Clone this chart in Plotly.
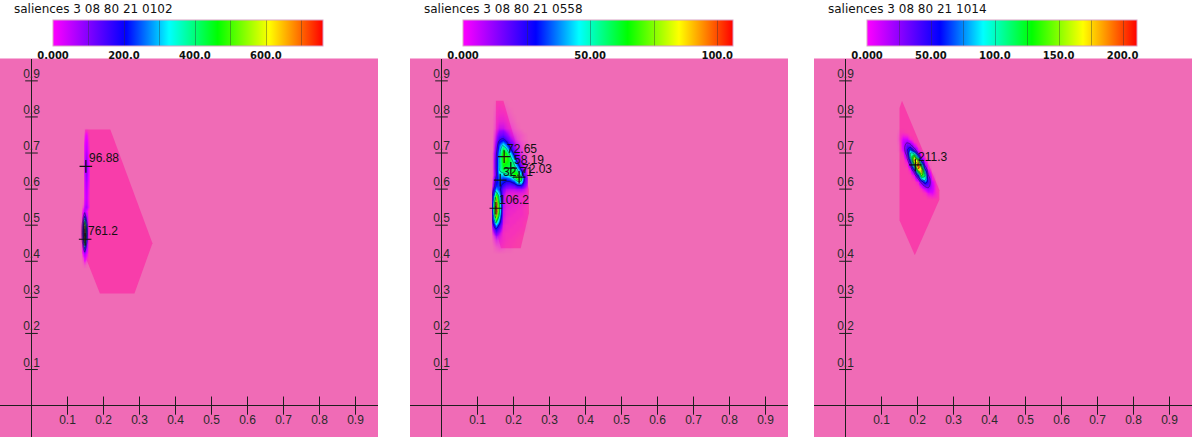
import plotly.graph_objects as go
from plotly.subplots import make_subplots

# ---- panel headers and colour bars ----
titles = ["saliences 3 08 80 21 0102", "saliences 3 08 80 21 0558", "saliences 3 08 80 21 1014"]
zmax = [761.2, 106.2, 211.3]
level_step = [100, 25, 25]
cbar_vals = [[0, 200, 400, 600], [0, 50, 100], [0, 50, 100, 150, 200]]
cbar_text = [["0.000", "200.0", "400.0", "600.0"],
             ["0.000", "50.00", "100.0"],
             ["0.000", "50.00", "100.0", "150.0", "200.0"]]

axis_ticks = [0.1, 0.2, 0.3, 0.4, 0.5, 0.6, 0.7, 0.8, 0.9]

# ---- outline of the sampled region in each panel ----
hull1_x = [0.149, 0.219, 0.336, 0.286, 0.190, 0.149]
hull1_y = [0.765, 0.765, 0.450, 0.311, 0.311, 0.414]
hull2_x = [0.151, 0.172, 0.243, 0.243, 0.220, 0.165, 0.151]
hull2_y = [0.845, 0.845, 0.600, 0.533, 0.436, 0.436, 0.490]
hull3_x = [0.150, 0.157, 0.261, 0.261, 0.1925, 0.150]
hull3_y = [0.825, 0.845, 0.597, 0.571, 0.417, 0.514]

# ---- labelled maxima ----
peaks1_x = [0.151, 0.149]
peaks1_y = [0.663, 0.461]
peaks1_txt = ["96.88", "761.2"]
peaks2_x = [0.174, 0.1925, 0.2156, 0.163, 0.151]
peaks2_y = [0.690, 0.658, 0.633, 0.625, 0.547]
peaks2_txt = ["72.65", "58.19", "72.03", "32.71", "106.2"]
peaks3_x = [0.194]
peaks3_y = [0.667]
peaks3_txt = ["211.3"]

# ---- salience fields ----
grid1_x = [0.1325, 0.1375, 0.1425, 0.1475, 0.1525, 0.1575, 0.1625]
grid1_y = [0.38, 0.39, 0.40, 0.41, 0.42, 0.43, 0.44, 0.45, 0.46, 0.47,
           0.48, 0.49, 0.50, 0.51, 0.52, 0.53, 0.54, 0.55, 0.56, 0.57,
           0.58, 0.59, 0.60, 0.61, 0.62, 0.63, 0.64, 0.65, 0.66, 0.67,
           0.68, 0.69, 0.70, 0.71, 0.72, 0.73, 0.74, 0.75, 0.76, 0.77]
grid1_z = [
    [0, 0, 0, 0, 0, 0, 0],
    [0, 0, 1, 3, 1, 0, 0],
    [0, 0, 3, 9, 3, 0, 0],
    [0, 0, 7, 25, 7, 0, 0],
    [0, 0, 19, 63, 19, 0, 0],
    [0, 1, 40, 134, 40, 1, 0],
    [0, 2, 74, 250, 74, 2, 0],
    [0, 3, 120, 407, 120, 3, 0],
    [0, 4, 170, 576, 170, 4, 0],
    [0, 5, 209, 710, 209, 5, 0],
    [0, 6, 224, 761, 224, 6, 0],
    [0, 5, 209, 710, 209, 5, 0],
    [0, 4, 170, 576, 170, 4, 0],
    [0, 3, 120, 407, 120, 3, 0],
    [0, 2, 74, 250, 74, 2, 0],
    [0, 1, 40, 134, 40, 1, 0],
    [0, 0, 19, 63, 19, 0, 0],
    [0, 0, 7, 49, 67, 12, 0],
    [0, 0, 3, 29, 53, 10, 0],
    [0, 0, 1, 21, 46, 9, 0],
    [0, 0, 0, 18, 45, 9, 0],
    [0, 0, 0, 19, 48, 10, 0],
    [0, 0, 0, 21, 52, 10, 0],
    [0, 0, 0, 23, 58, 12, 0],
    [0, 0, 0, 26, 65, 13, 0],
    [0, 0, 0, 30, 75, 15, 0],
    [0, 0, 0, 34, 85, 17, 0],
    [0, 0, 0, 37, 92, 18, 0],
    [0, 0, 0, 38, 96, 19, 0],
    [0, 0, 0, 38, 94, 19, 0],
    [0, 0, 0, 34, 85, 17, 0],
    [0, 0, 0, 29, 72, 14, 0],
    [0, 0, 0, 24, 60, 12, 0],
    [0, 0, 0, 19, 48, 10, 0],
    [0, 0, 0, 15, 38, 8, 0],
    [0, 0, 0, 12, 30, 6, 0],
    [0, 0, 0, 9, 22, 4, 0],
    [0, 0, 0, 6, 15, 3, 0],
    [0, 0, 0, 3, 8, 2, 0],
    [0, 0, 0, 0, 0, 0, 0],
]

grid2_x = [0.14, 0.15, 0.16, 0.17, 0.18, 0.19, 0.20, 0.21, 0.22, 0.23, 0.24]
grid2_y = [0.42, 0.44, 0.46, 0.47, 0.48, 0.49, 0.50, 0.51, 0.52, 0.53,
           0.54, 0.55, 0.56, 0.57, 0.58, 0.59, 0.60, 0.61, 0.62, 0.63,
           0.64, 0.65, 0.66, 0.67, 0.68, 0.69, 0.70, 0.71, 0.72, 0.73,
           0.74, 0.75, 0.76, 0.77, 0.79, 0.81, 0.83, 0.85]
grid2_z = [
    [0, 0, 0, 0, 0, 0, 0, 0, 0, 0, 0],
    [0, 2, 3, 2, 1, 1, 0, 0, 0, 0, 0],
    [1, 6, 5, 3, 2, 1, 1, 0, 0, 0, 0],
    [2, 10, 7, 3, 2, 2, 1, 1, 0, 0, 0],
    [4, 16, 10, 3, 2, 2, 2, 1, 1, 0, 0],
    [7, 26, 16, 4, 3, 2, 2, 2, 1, 1, 0],
    [11, 40, 24, 5, 3, 3, 2, 2, 2, 1, 0],
    [16, 57, 34, 6, 4, 3, 3, 2, 2, 1, 0],
    [21, 74, 44, 7, 4, 3, 3, 3, 2, 2, 1],
    [26, 90, 53, 8, 5, 4, 3, 3, 3, 2, 1],
    [29, 99, 58, 8, 5, 4, 4, 3, 3, 2, 1],
    [29, 102, 60, 9, 6, 5, 4, 4, 3, 2, 1],
    [28, 96, 57, 9, 6, 5, 5, 4, 4, 3, 1],
    [24, 84, 50, 9, 7, 6, 5, 5, 4, 3, 1],
    [19, 72, 47, 10, 5, 4, 4, 4, 4, 3, 1],
    [15, 57, 40, 12, 7, 6, 6, 6, 6, 5, 2],
    [10, 40, 32, 15, 10, 9, 9, 10, 10, 8, 3],
    [6, 31, 33, 21, 16, 14, 16, 22, 24, 14, 5],
    [4, 27, 33, 29, 24, 24, 30, 45, 48, 22, 7],
    [2, 24, 37, 32, 33, 38, 50, 70, 64, 24, 7],
    [1, 19, 41, 42, 48, 56, 66, 70, 45, 18, 5],
    [1, 19, 48, 57, 58, 60, 64, 58, 32, 12, 4],
    [1, 20, 47, 62, 60, 58, 58, 45, 20, 8, 3],
    [1, 20, 46, 66, 64, 60, 52, 32, 13, 6, 3],
    [1, 20, 46, 70, 68, 60, 45, 20, 9, 5, 2],
    [1, 19, 45, 72, 70, 55, 32, 14, 7, 4, 2],
    [1, 18, 42, 70, 64, 45, 22, 11, 6, 3, 2],
    [0, 16, 38, 64, 54, 32, 16, 9, 5, 3, 1],
    [0, 14, 34, 52, 40, 22, 12, 7, 4, 2, 1],
    [0, 12, 28, 36, 28, 16, 9, 6, 3, 2, 1],
    [0, 10, 21, 25, 19, 11, 7, 4, 2, 1, 0],
    [0, 8, 15, 17, 13, 8, 5, 3, 2, 1, 0],
    [0, 6, 11, 12, 9, 6, 3, 2, 1, 0, 0],
    [0, 4, 8, 8, 6, 4, 2, 1, 0, 0, 0],
    [0, 3, 5, 5, 4, 2, 1, 0, 0, 0, 0],
    [0, 2, 3, 3, 2, 1, 0, 0, 0, 0, 0],
    [0, 1, 2, 1, 1, 0, 0, 0, 0, 0, 0],
    [0, 0, 0, 0, 0, 0, 0, 0, 0, 0, 0],
]

grid3_x = [0.14, 0.15, 0.16, 0.17, 0.18, 0.19, 0.20, 0.21, 0.22, 0.23, 0.24, 0.25, 0.26]
grid3_y = [0.57, 0.58, 0.59, 0.60, 0.61, 0.62, 0.63, 0.64, 0.65, 0.66, 0.67,
           0.68, 0.69, 0.70, 0.71, 0.72, 0.73, 0.74, 0.75, 0.76, 0.77]
grid3_z = [
    [0, 0, 0, 0, 0, 0, 0, 0, 0, 0, 0, 0, 0],
    [0, 0, 0, 0, 0, 0, 0, 0, 0, 2, 3, 2, 0],
    [0, 0, 0, 0, 0, 0, 0, 0, 2, 7, 8, 3, 0],
    [0, 0, 0, 0, 0, 0, 0, 2, 10, 19, 12, 2, 0],
    [0, 0, 0, 0, 0, 0, 1, 9, 30, 34, 12, 2, 0],
    [0, 0, 0, 0, 0, 0, 5, 31, 65, 43, 10, 1, 0],
    [0, 0, 0, 0, 0, 2, 21, 80, 97, 39, 5, 0, 0],
    [0, 0, 0, 0, 0, 9, 64, 141, 103, 24, 2, 0, 0],
    [0, 0, 0, 0, 3, 33, 134, 177, 76, 11, 0, 0, 0],
    [0, 0, 0, 0, 11, 83, 198, 154, 39, 3, 0, 0, 0],
    [0, 0, 0, 3, 33, 144, 205, 95, 15, 1, 0, 0, 0],
    [0, 0, 0, 9, 69, 177, 149, 41, 4, 0, 0, 0, 0],
    [0, 0, 1, 21, 99, 152, 77, 13, 1, 0, 0, 0, 0],
    [0, 0, 4, 36, 101, 92, 27, 3, 0, 0, 0, 0, 0],
    [0, 1, 9, 44, 72, 39, 7, 0, 0, 0, 0, 0, 0],
    [0, 1, 12, 37, 36, 12, 1, 0, 0, 0, 0, 0, 0],
    [0, 2, 12, 22, 13, 2, 0, 0, 0, 0, 0, 0, 0],
    [0, 3, 9, 9, 3, 0, 0, 0, 0, 0, 0, 0, 0],
    [0, 2, 4, 3, 0, 0, 0, 0, 0, 0, 0, 0, 0],
    [0, 1, 1, 0, 0, 0, 0, 0, 0, 0, 0, 0, 0],
    [0, 0, 0, 0, 0, 0, 0, 0, 0, 0, 0, 0, 0],
]

panels = [
    (hull1_x, hull1_y, grid1_x, grid1_y, grid1_z, peaks1_x, peaks1_y, peaks1_txt),
    (hull2_x, hull2_y, grid2_x, grid2_y, grid2_z, peaks2_x, peaks2_y, peaks2_txt),
    (hull3_x, hull3_y, grid3_x, grid3_y, grid3_z, peaks3_x, peaks3_y, peaks3_txt),
]
fade_at = [14, 11, 9]  # values below this blend into the pink underneath

# ---- styling ----
W, H = 1192, 441
BG = "#F06BB6"
HULL = "#F83DAA"
INK = "#1e1e1e"
panel_left = [0, 410, 814]
panel_w = 378
y_dom = [4 / H, (H - 58.5) / H]
xr = [-0.0875, 0.9625]
yr = [-0.087, 0.962]

base_stops = [(0.0, (255, 0, 255)), (0.27, (0, 0, 255)), (0.43, (0, 255, 255)),
              (0.61, (0, 255, 0)), (0.80, (255, 255, 0)), (1.0, (255, 0, 0))]


def rgba(c, a=1):
    return f"rgba({c[0]},{c[1]},{c[2]},{a})"


def colorscale(fade=None):
    cs = [[p, rgba(c)] for p, c in base_stops]
    if fade:
        p1, c1 = base_stops[1]
        c0 = base_stops[0][1]
        mix = tuple(round(c0[k] + (c1[k] - c0[k]) * fade / p1) for k in range(3))
        cs = [[0, rgba(c0, 0)], [fade, rgba(mix)]] + cs[1:]
    return cs


fig = make_subplots(rows=1, cols=3)

for i, (hx, hy, gx, gy, gz, px, py, ptxt) in enumerate(panels):
    col = i + 1
    m = zmax[i]
    step = level_step[i]
    levels = dict(coloring="heatmap", start=step, end=step * int(m // step),
                  size=step, showlines=True)

    fig.add_trace(go.Contour(
        x=gx, y=gy, z=gz, zmin=0, zmax=m, zauto=False,
        colorscale=colorscale(fade_at[i] / m),
        autocontour=False, contours=levels,
        line=dict(color="rgba(20,20,35,0.75)", width=0.6, smoothing=1),
        showscale=False, hoverinfo="skip"), row=1, col=col)

    # colour bar only (trace sits outside the visible range)
    cb_left = panel_left[i] + 53
    fig.add_trace(go.Contour(
        x=[5, 6], y=[5, 6], z=[[0, m], [m, 0]], zmin=0, zmax=m, zauto=False,
        colorscale=colorscale(), autocontour=False, contours=levels,
        line=dict(color="rgba(50,50,50,0.4)", width=1),
        hoverinfo="skip",
        colorbar=dict(orientation="h", x=(cb_left + 135) / W, xanchor="center",
                      y=(H - 19.5) / H, yanchor="top", len=270 / W, lenmode="fraction",
                      thickness=26, thicknessmode="pixels", xpad=0, ypad=0,
                      outlinecolor="#d9a3c6", outlinewidth=1, ticks="",
                      tickvals=cbar_vals[i], ticktext=cbar_text[i],
                      tickfont=dict(family="DejaVu Sans", size=10, color="#111", weight="bold"))),
        row=1, col=col)

    # axis ticks and labels drawn through the data axes
    fig.add_trace(go.Scatter(
        x=axis_ticks, y=[0] * len(axis_ticks), mode="markers+text",
        text=[f"{v:.1f}" for v in axis_ticks], textposition="bottom center",
        textfont=dict(family="Liberation Sans", size=12, color="#2a2a2a"),
        marker=dict(symbol="line-ns", size=13, line=dict(width=1, color=INK)),
        hoverinfo="skip"), row=1, col=col)
    fig.add_trace(go.Scatter(
        x=[0] * len(axis_ticks), y=axis_ticks, mode="markers",
        marker=dict(symbol="line-ew", size=9, line=dict(width=1, color=INK)),
        hoverinfo="skip"), row=1, col=col)
    fig.add_trace(go.Scatter(
        x=[0] * len(axis_ticks), y=axis_ticks, mode="text",
        text=[f"{v:.1f}" for v in axis_ticks], textposition="top center",
        textfont=dict(family="Liberation Sans", size=12, color="#2a2a2a"),
        hoverinfo="skip"), row=1, col=col)

    # labelled maxima: crosses, then their values just above-right
    fig.add_trace(go.Scatter(
        x=px, y=py, mode="markers",
        marker=dict(symbol="cross-thin", size=9, line=dict(width=1.2, color="#111")),
        hoverinfo="skip"), row=1, col=col)
    for xv, yv, t in zip(px, py, ptxt):
        fig.add_annotation(x=xv, y=yv, text=t, showarrow=False, xanchor="left",
                           yanchor="bottom", xshift=1, yshift=-1,
                           font=dict(family="Liberation Sans", size=12, color="#111"),
                           row=1, col=col)

    # sampled region, under the field
    path = "M " + " L ".join(f"{x},{y}" for x, y in zip(hx, hy)) + " Z"
    xref = "x" if col == 1 else f"x{col}"
    yref = "y" if col == 1 else f"y{col}"
    fig.add_shape(type="path", path=path, xref=xref, yref=yref,
                  fillcolor=HULL, line=dict(width=0), layer="below")

    sfx = "" if col == 1 else str(col)
    fig.update_layout({
        f"xaxis{sfx}": dict(domain=[panel_left[i] / W, (panel_left[i] + panel_w) / W],
                            range=xr, showgrid=False, zeroline=True, zerolinecolor=INK,
                            zerolinewidth=1, showticklabels=False, ticks="", fixedrange=True),
        f"yaxis{sfx}": dict(domain=y_dom, range=yr, showgrid=False, zeroline=True,
                            zerolinecolor=INK, zerolinewidth=1, showticklabels=False,
                            ticks="", fixedrange=True),
    })

    fig.add_annotation(text=titles[i], xref="paper", yref="paper",
                       x=(panel_left[i] + 12) / W, y=(H - 9.5) / H,
                       xanchor="left", yanchor="middle", showarrow=False,
                       font=dict(family="DejaVu Sans", size=12, color="#111"))

fig.update_layout(
    width=W, height=H, margin=dict(l=0, r=0, t=0, b=0, autoexpand=False),
    paper_bgcolor="white", plot_bgcolor=BG, showlegend=False,
)

# the page's default body margin would push the figure off by 8px
fig.write_html("out.html", config={"displayModeBar": False},
               post_script="document.body.style.margin='0';")
